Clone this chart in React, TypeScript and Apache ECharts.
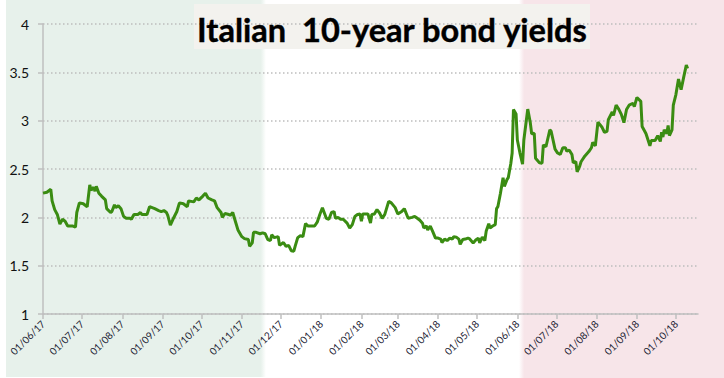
import { useEffect, useRef } from "react";
import * as echarts from "echarts";

const TITLE = "Italian  10-year bond yields";
const START_DATE = "01/06/17";
const END_DATE = "18/10/18";
const tickLabels = [
  "01/06/17", "01/07/17", "01/08/17", "01/09/17", "01/10/17", "01/11/17",
  "01/12/17", "01/01/18", "01/02/18", "01/03/18", "01/04/18", "01/05/18",
  "01/06/18", "01/07/18", "01/08/18", "01/09/18", "01/10/18",
];
const Y_MIN = 1;
const Y_MAX = 4;
const Y_STEP = 0.5;

// days since START_DATE
const daysSinceStart = [
  0, 3, 6, 7, 9, 11, 13, 15, 17, 19, 23, 25, 26, 28, 31, 34, 36, 37, 39, 40,
  41, 43, 45, 48, 49, 52, 53, 55, 56, 58, 60, 62, 64, 67, 68, 70, 73, 75, 76, 80,
  82, 86, 89, 91, 93, 95, 96, 98, 100, 103, 105, 108, 111, 112, 116, 118, 120, 123, 125, 127,
  130, 132, 134, 137, 138, 140, 143, 144, 146, 148, 150, 153, 155, 158, 159, 161, 162, 164, 167, 169,
  171, 173, 175, 176, 178, 181, 182, 185, 187, 189, 191, 193, 194, 196, 198, 200, 202, 204, 207, 209,
  211, 213, 215, 218, 220, 222, 224, 225, 227, 229, 231, 234, 236, 238, 240, 242, 244, 245, 246, 250,
  252, 253, 255, 257, 259, 261, 263, 266, 268, 271, 273, 276, 278, 281, 284, 286, 288, 290, 292, 293,
  295, 296, 298, 300, 302, 304, 306, 307, 309, 311, 313, 315, 316, 318, 320, 321, 323, 325, 327, 328,
  331, 333, 335, 336, 338, 340, 341, 343, 344, 346, 348, 349, 350, 352, 354, 355, 357, 358, 360, 361,
  362, 364, 365, 367, 369, 370, 373, 375, 376, 378, 379, 382, 384, 385, 387, 390, 391, 394, 396, 398,
  400, 402, 403, 405, 407, 408, 410, 411, 413, 414, 417, 420, 422, 423, 425, 427, 430, 432, 434, 435,
  438, 439, 441, 443, 445, 447, 449, 451, 454, 455, 457, 460, 461, 463, 464, 467, 468, 471, 473, 475,
  476, 477, 478, 480, 481, 482, 484, 485, 487, 489, 491, 493, 495, 496,
];
const yields = [
  2.25, 2.26, 2.29, 2.17, 2.08, 2.03, 1.93, 1.98, 1.96, 1.91, 1.91, 1.9, 2.05, 2.15, 2.14, 2.11, 2.335, 2.28, 2.31, 2.27,
  2.32, 2.25, 2.22, 2.18, 2.09, 2.05, 2.06, 2.13, 2.1, 2.12, 2.09, 2.01, 1.99, 1.99, 1.98, 2.03, 2.03, 2.05, 2.03, 2.03,
  2.11, 2.09, 2.07, 2.06, 2.07, 2.05, 2.02, 1.92, 1.98, 2.06, 2.15, 2.14, 2.11, 2.17, 2.16, 2.2, 2.18, 2.22, 2.25, 2.2,
  2.18, 2.17, 2.1, 2.05, 2.0, 2.04, 2.03, 2.02, 2.05, 1.96, 1.87, 1.8, 1.78, 1.77, 1.7, 1.735, 1.845, 1.845, 1.83, 1.84,
  1.83, 1.77, 1.76, 1.82, 1.79, 1.8, 1.71, 1.74, 1.7, 1.71, 1.655, 1.65, 1.7, 1.79, 1.81, 1.8, 1.935, 1.91, 1.91, 1.91,
  1.95, 2.03, 2.1, 1.99, 1.98, 2.05, 2.06, 1.99, 2.0, 1.98, 1.98, 1.94, 1.89, 1.925, 2.01, 2.03, 2.035, 1.96, 2.035, 2.035,
  1.94, 2.03, 2.035, 2.08, 2.045, 1.99, 2.03, 2.165, 2.15, 2.1, 2.035, 2.06, 2.09, 1.99, 2.0, 2.01, 1.99, 1.97, 1.94, 1.89,
  1.91, 1.87, 1.91, 1.85, 1.785, 1.785, 1.775, 1.74, 1.775, 1.76, 1.785, 1.775, 1.8, 1.795, 1.775, 1.72, 1.77, 1.775, 1.785, 1.78,
  1.735, 1.765, 1.785, 1.735, 1.795, 1.76, 1.855, 1.935, 1.89, 1.91, 1.925, 2.09, 2.11, 2.25, 2.41, 2.32, 2.39, 2.41, 2.56, 2.665,
  3.115, 3.07, 2.8, 2.665, 2.55, 2.8, 3.12, 2.975, 2.865, 2.87, 2.61, 2.565, 2.56, 2.75, 2.73, 2.905, 2.89, 2.705, 2.665, 2.65,
  2.72, 2.72, 2.685, 2.695, 2.65, 2.565, 2.575, 2.47, 2.53, 2.575, 2.635, 2.68, 2.72, 2.775, 2.74, 2.985, 2.935, 2.88, 2.89, 3.01,
  3.09, 3.055, 3.16, 3.12, 3.065, 2.98, 3.115, 3.16, 3.18, 3.145, 3.24, 3.2, 2.94, 2.89, 2.865, 2.74, 2.795, 2.795, 2.845, 2.785,
  2.88, 2.83, 2.905, 2.865, 2.95, 2.845, 2.905, 3.16, 3.27, 3.43, 3.32, 3.45, 3.575, 3.54,
];

const DAY = 86400000;
const parseDate = (s: string) => {
  const [d, m, y] = s.split("/").map(Number);
  return Date.UTC(2000 + y, m - 1, d);
};

export default function App() {
  const ref = useRef<HTMLDivElement>(null);
  useEffect(() => {
    if (!ref.current) return;
    const chart = echarts.init(ref.current, null, { renderer: "svg" });
    const start = parseDate(START_DATE);
    const endDay = Math.round((parseDate(END_DATE) - start) / DAY);
    const tickDays = tickLabels.map((s) => Math.round((parseDate(s) - start) / DAY));
    const labelMap = new Map<number, string>();
    tickDays.forEach((t, i) => labelMap.set(t, tickLabels[i]));
    const data = daysSinceStart.map((d, i) => [d, yields[i]]);
    const green = "#e7f1eb";
    const pink = "#f7e5e9";
    chart.setOption({
      animation: false,
      backgroundColor: "#ffffff",
      graphic: [
        {
          type: "rect",
          z: -10,
          silent: true,
          shape: { x: 6, y: 0, width: 260, height: 377 },
          style: {
            fill: new echarts.graphic.LinearGradient(0, 0, 1, 0, [
              { offset: 0, color: green },
              { offset: 0.98, color: green },
              { offset: 1, color: "rgba(231,241,235,0)" },
            ]),
          },
        },
        {
          type: "rect",
          z: -10,
          silent: true,
          shape: { x: 519, y: 0, width: 205, height: 378 },
          style: {
            fill: new echarts.graphic.LinearGradient(0, 0, 1, 0, [
              { offset: 0, color: "rgba(247,229,233,0)" },
              { offset: 0.025, color: pink },
              { offset: 1, color: pink },
            ]),
          },
        },
        {
          type: "rect",
          z: -5,
          silent: true,
          shape: { x: 194, y: 4, width: 396, height: 45 },
          style: { fill: "#f3f2ee" },
        },
        {
          type: "text",
          z: 100,
          silent: true,
          x: 392,
          y: 29,
          style: {
            text: TITLE,
            fill: "#000000",
            font: "bold 32.6px Lato",
            textAlign: "center",
            textVerticalAlign: "middle",
            stroke: "#000000",
            lineWidth: 0.4,
          },
        },
      ],
      grid: { left: 43, right: 26, top: 24, bottom: 64 },
      xAxis: {
        type: "value",
        min: 0,
        max: endDay,
        splitLine: { show: false },
        axisLine: { show: true, lineStyle: { color: "#bfbfbf", width: 1.5 } },
        axisTick: {
          show: true,
          length: 5,
          customValues: tickDays,
          lineStyle: { color: "#bfbfbf", width: 1.5 },
        },
        axisLabel: {
          customValues: tickDays,
          rotate: 45,
          margin: 8,
          fontSize: 10,
          fontFamily: "Lato",
          color: "#222233",
          formatter: (v: number) => labelMap.get(Math.round(v)) ?? "",
        },
      },
      yAxis: {
        type: "value",
        min: Y_MIN,
        max: Y_MAX,
        interval: Y_STEP,
        axisLine: { show: true, lineStyle: { color: "#bfbfbf", width: 1.5 } },
        axisTick: { show: true, length: 5, lineStyle: { color: "#bfbfbf", width: 1.5 } },
        axisLabel: {
          margin: 14,
          fontSize: 14,
          fontFamily: "Lato",
          color: "#111111",
        },
        splitLine: {
          show: true,
          lineStyle: { color: "#bdbdbd", type: [1.5, 2.5], width: 1.5 },
        },
      },
      series: [
        {
          type: "line",
          data,
          showSymbol: false,
          symbol: "none",
          lineStyle: { color: "#3a8c12", width: 3 },
          z: 5,
        },
      ],
    });
    return () => chart.dispose();
  }, []);
  return (
    <div
      ref={ref}
      style={{ position: "fixed", left: 0, top: 0, width: 724, height: 378 }}
    />
  );
}
